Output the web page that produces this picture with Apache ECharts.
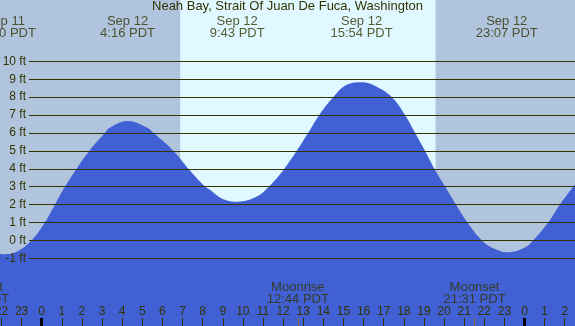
<!DOCTYPE html>
<html><head><meta charset="utf-8">
<script src="https://cdn.jsdelivr.net/npm/echarts@6/dist/echarts.min.js"></script>
<style>html,body{margin:0;padding:0;background:#b0c4de;}#c{width:575px;height:326px;}</style>
</head><body><div id="c"></div>
<script>
// ---- data ----
const chartTitle = 'Neah Bay, Strait Of Juan De Fuca, Washington';
// hours relative to Sep 12 00:00 PDT, water level in feet
const tideHours = [-2.1, -1.83, -1.33, -0.50, 0.16, 0.66, 1.16, 1.74, 2.37, 3.15, 3.40, 4.27, 5.22, 5.55, 6.54, 7.29, 8.12, 8.37, 9.03, 9.72, 10.69, 11.30, 12.06, 12.68, 13.25, 13.80, 14.50, 15.16, 15.90, 16.65, 17.40, 18.06, 18.56, 19.05, 19.52, 20.05, 20.59, 21.16, 21.87, 22.45, 23.12, 23.94, 24.44, 25.18, 25.76, 26.43, 26.6];
const tideFeet  = [-0.77, -0.78, -0.69, 0, 1, 2, 3, 4, 5, 6, 6.3, 6.66, 6.3, 6, 5, 4, 3, 2.81, 2.29, 2.15, 2.44, 3, 4, 5, 6, 7, 8, 8.68, 8.83, 8.58, 8, 7, 6, 5, 4, 3, 2, 1, 0, -0.45, -0.67, -0.45, 0, 1, 2, 3, 3.25];
const hourTicks = [-2,-1,0,1,2,3,4,5,6,7,8,9,10,11,12,13,14,15,16,17,18,19,20,21,22,23,24,25,26];
const midnightTicks = [0, 24];
const feetTicks = [-1,0,1,2,3,4,5,6,7,8,9,10];
const extremeDates = ['Sep 11', 'Sep 12', 'Sep 12', 'Sep 12', 'Sep 12'];
const extremeDayOffset = [-1, 0, 0, 0, 0];
const extremeTimes = ['22:10', '4:16', '9:43', '15:54', '23:07'];
const moonEvents = ['Moonset', 'Moonrise', 'Moonset'];
const moonDayOffset = [-1, 0, 0];
const moonTimes = ['20:50', '12:44', '21:31'];
const sunTimes = ['6:53', '19:35']; // sunrise, sunset Sep 12

// ---- helpers ----
function toHour(t, dayOff) { const p = t.split(':'); return dayOff * 24 + (+p[0]) + (+p[1]) / 60; }
const extremeHours = extremeTimes.map((t, i) => toHour(t, extremeDayOffset[i]));
const moonHours = moonTimes.map((t, i) => toHour(t, moonDayOffset[i]));
const sunHours = sunTimes.map(t => toHour(t, 0));

const X_MIN = -2.073, X_MAX = 26.51;
const Y_MIN = -4.79, Y_MAX = 13.42;
const INK = '#333300';
const FONT = 'Liberation Sans';

const chart = echarts.init(document.getElementById('c'), null, {renderer: 'canvas'});
chart.setOption({
  animation: false,
  backgroundColor: '#b0c4de',
  title: {
    text: chartTitle, left: 'center', top: 0, padding: 0,
    textStyle: {fontFamily: FONT, fontSize: 13, fontWeight: 'normal', color: INK, lineHeight: 13}
  },
  grid: [
    {left: 0, right: 0, top: 0, bottom: 0, containLabel: false, outerBoundsMode: 'none'},
    {left: 29, right: 0, top: 61.3, bottom: 67.7, containLabel: false, outerBoundsMode: 'none'}
  ],
  xAxis: [
    {type: 'value', gridIndex: 0, min: X_MIN, max: X_MAX, position: 'bottom', offset: 0,
     axisLine: {show: false, onZero: false}, splitLine: {show: false},
     axisTick: {show: true, inside: true, length: 8, customValues: hourTicks, lineStyle: {color: INK, width: 1}},
     axisLabel: {show: true, inside: true, margin: 8, customValues: hourTicks, hideOverlap: false,
       formatter: v => String(((Math.round(v) % 24) + 24) % 24),
       fontFamily: FONT, fontSize: 12, lineHeight: 12, color: INK}, z: 6},
    {type: 'value', gridIndex: 0, min: X_MIN, max: X_MAX, position: 'bottom', offset: 0,
     axisLine: {show: false, onZero: false}, splitLine: {show: false}, axisLabel: {show: false},
     axisTick: {show: true, inside: true, length: 8, customValues: midnightTicks, lineStyle: {color: '#000000', width: 3}}, z: 7},
    {type: 'value', gridIndex: 0, min: X_MIN, max: X_MAX, position: 'bottom', offset: 0,
     axisLine: {show: false, onZero: false}, splitLine: {show: false}, axisLabel: {show: false},
     axisTick: {show: true, inside: true, length: 8, customValues: moonHours, lineStyle: {color: '#8a6d2c', width: 1}}, z: 7},
    {type: 'value', gridIndex: 1, min: 0, max: 1, show: false, axisLine: {onZero: false}}
  ],
  yAxis: [
    {type: 'value', gridIndex: 0, min: Y_MIN, max: Y_MAX, show: false, axisLine: {onZero: false}},
    {type: 'value', gridIndex: 1, min: -1, max: 10, interval: 1, position: 'left', z: 5,
     axisLine: {show: false, onZero: false}, axisTick: {show: false},
     splitLine: {show: true, lineStyle: {color: INK, width: 1}},
     axisLabel: {show: true, margin: 3, formatter: '{value} ft', fontFamily: FONT, fontSize: 12, color: INK}}
  ],
  series: [
    {type: 'line', xAxisIndex: 0, yAxisIndex: 0, z: 2,
     data: tideHours.map((h, i) => [h, tideFeet[i]]),
     smooth: 0.4, symbol: 'none', silent: true,
     lineStyle: {width: 0, color: '#4060d4'},
     areaStyle: {color: '#4060d4', opacity: 1, origin: 'start'},
     markArea: {silent: true, z: 1, itemStyle: {color: '#e0f8ff'},
       data: [[{xAxis: sunHours[0]}, {xAxis: sunHours[1]}]]}},
    {type: 'scatter', xAxisIndex: 0, yAxisIndex: 0, z: 8, clip: false, silent: true,
     symbolSize: 0,
     data: extremeHours.map(h => [h, Y_MAX]),
     label: {show: true, position: 'bottom', distance: 15, align: 'center',
       formatter: p => extremeDates[p.dataIndex] + '\n' + extremeTimes[p.dataIndex] + ' PDT',
       fontFamily: FONT, fontSize: 13, lineHeight: 12, color: INK}},
    {type: 'scatter', xAxisIndex: 0, yAxisIndex: 0, z: 8, clip: false, silent: true,
     symbolSize: 0,
     data: moonHours.map(h => [h, Y_MIN]),
     label: {show: true, position: 'top', distance: 21, align: 'center',
       formatter: p => moonEvents[p.dataIndex] + '\n' + moonTimes[p.dataIndex] + ' PDT',
       fontFamily: FONT, fontSize: 13, lineHeight: 12, color: INK}}
  ]
});
</script></body></html>
